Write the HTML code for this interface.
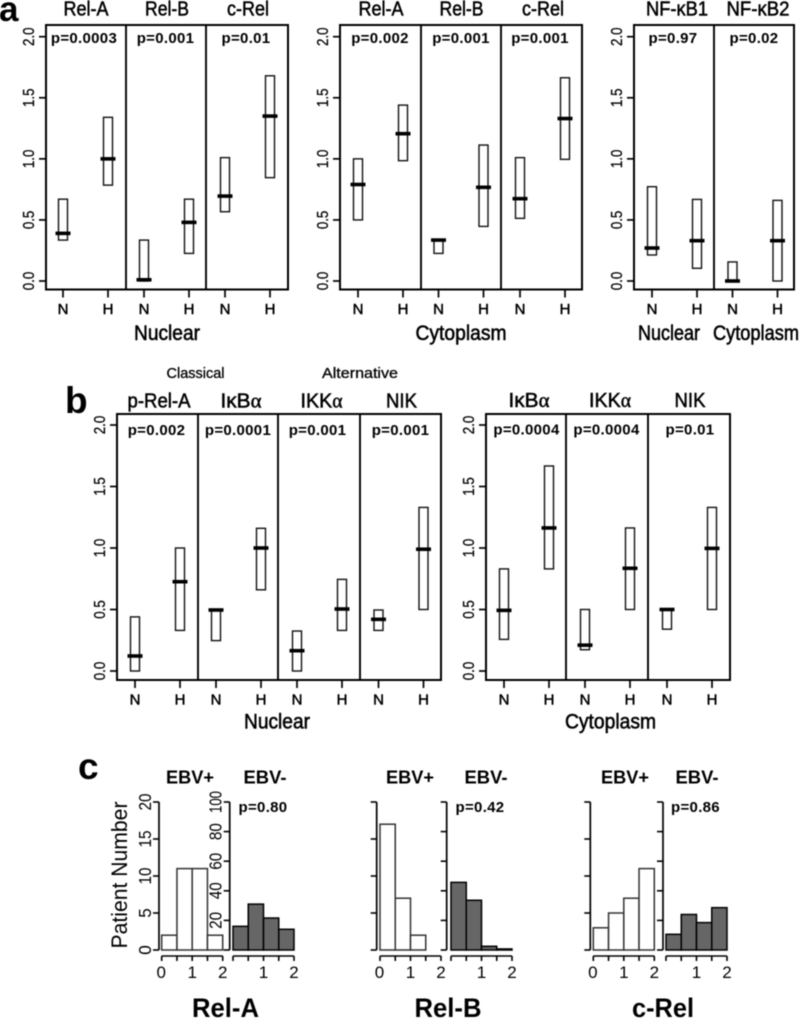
<!DOCTYPE html>
<html lang="en">
<head>
<meta charset="utf-8">
<title>NF-kB expression panels</title>
<style>
html,body{margin:0;padding:0;background:#fff;}
svg{display:block;filter:blur(0.45px);}
text{font-family:"Liberation Sans",sans-serif;fill:#000;}
.ttl{font-size:20px;text-anchor:middle;stroke:#000;stroke-width:.5px;}
.pv{font-size:15px;font-weight:bold;text-anchor:middle;letter-spacing:.3px;}
.xt{font-size:21px;text-anchor:middle;stroke:#000;stroke-width:.55px;}
.sm{font-size:14.5px;text-anchor:middle;stroke:#000;stroke-width:.3px;}
.let{font-weight:bold;}
.ebv{font-size:18.5px;font-weight:bold;text-anchor:middle;}
.big{font-size:27px;font-weight:bold;text-anchor:middle;}
.gr{font-family:"Liberation Serif",serif;}
</style>
</head>
<body>
<svg id="fig" xmlns="http://www.w3.org/2000/svg" width="800" height="1019" viewBox="0 0 800 1019">
<rect x="0" y="0" width="800" height="1019" fill="#fff"/>

<text class="let" x="-1" y="21" font-size="35">a</text>
<text class="let" x="65" y="413" font-size="37">b</text>
<text class="let" x="78" y="779" font-size="37">c</text>

<text class="ttl" x="86" y="15.5" textLength="45" lengthAdjust="spacingAndGlyphs">Rel-A</text>
<text class="ttl" x="167" y="15.5" textLength="44" lengthAdjust="spacingAndGlyphs">Rel-B</text>
<text class="ttl" x="248" y="15.5" textLength="42" lengthAdjust="spacingAndGlyphs">c-Rel</text>
<text class="ttl" x="381" y="15.5" textLength="45" lengthAdjust="spacingAndGlyphs">Rel-A</text>
<text class="ttl" x="461.500" y="15.5" textLength="44" lengthAdjust="spacingAndGlyphs">Rel-B</text>
<text class="ttl" x="543" y="15.5" textLength="42" lengthAdjust="spacingAndGlyphs">c-Rel</text>
<text class="ttl" x="677" y="15.5" textLength="62" lengthAdjust="spacingAndGlyphs">NF-κB1</text>
<text class="ttl" x="758" y="15.5" textLength="63" lengthAdjust="spacingAndGlyphs">NF-κB2</text>

<text class="pv" x="84" y="43">p=0.0003</text>
<text class="pv" x="165.500" y="43">p=0.001</text>
<text class="pv" x="246" y="43">p=0.01</text>
<text class="pv" x="380" y="43">p=0.002</text>
<text class="pv" x="461" y="43">p=0.001</text>
<text class="pv" x="540" y="43">p=0.001</text>
<text class="pv" x="673" y="43">p=0.97</text>
<text class="pv" x="754" y="43">p=0.02</text>

<text class="xt" x="167" y="340" textLength="66" lengthAdjust="spacingAndGlyphs">Nuclear</text>
<text class="xt" x="461" y="340" textLength="91" lengthAdjust="spacingAndGlyphs">Cytoplasm</text>
<text class="xt" x="669" y="340" textLength="62" lengthAdjust="spacingAndGlyphs">Nuclear</text>
<text class="xt" x="756" y="340" textLength="86" lengthAdjust="spacingAndGlyphs">Cytoplasm</text>

<text class="sm" x="195.500" y="378" textLength="58" lengthAdjust="spacingAndGlyphs">Classical</text>
<text class="sm" x="360" y="378" textLength="76" lengthAdjust="spacingAndGlyphs">Alternative</text>

<text class="ttl" x="159" y="407.500" textLength="63" lengthAdjust="spacingAndGlyphs">p-Rel-A</text>
<text class="ttl" x="241" y="407.500" textLength="41" lengthAdjust="spacingAndGlyphs">Iκ<tspan>B</tspan><tspan class="gr">α</tspan></text>
<text class="ttl" x="321.500" y="407.500" textLength="42" lengthAdjust="spacingAndGlyphs">IKK<tspan class="gr">α</tspan></text>
<text class="ttl" x="401.500" y="407.500" textLength="31" lengthAdjust="spacingAndGlyphs">NIK</text>
<text class="ttl" x="529" y="407" textLength="41" lengthAdjust="spacingAndGlyphs">Iκ<tspan>B</tspan><tspan class="gr">α</tspan></text>
<text class="ttl" x="610" y="407" textLength="42" lengthAdjust="spacingAndGlyphs">IKK<tspan class="gr">α</tspan></text>
<text class="ttl" x="690" y="407" textLength="31" lengthAdjust="spacingAndGlyphs">NIK</text>

<text class="pv" x="156.500" y="435">p=0.002</text>
<text class="pv" x="238" y="435">p=0.0001</text>
<text class="pv" x="317.500" y="435">p=0.001</text>
<text class="pv" x="400.500" y="435">p=0.001</text>
<text class="pv" x="526.500" y="434.500">p=0.0004</text>
<text class="pv" x="606.500" y="434.500">p=0.0004</text>
<text class="pv" x="690" y="434.500">p=0.01</text>

<text class="xt" x="277" y="728.500" textLength="66" lengthAdjust="spacingAndGlyphs">Nuclear</text>
<text class="xt" x="610.500" y="728.500" textLength="91" lengthAdjust="spacingAndGlyphs">Cytoplasm</text>

<text class="ebv" x="190" y="783.500" textLength="48" lengthAdjust="spacingAndGlyphs">EBV+</text>
<text class="ebv" x="265" y="783.500" textLength="43" lengthAdjust="spacingAndGlyphs">EBV-</text>
<text class="ebv" x="410" y="783.500" textLength="48" lengthAdjust="spacingAndGlyphs">EBV+</text>
<text class="ebv" x="486" y="783.500" textLength="43" lengthAdjust="spacingAndGlyphs">EBV-</text>
<text class="ebv" x="625" y="783.500" textLength="48" lengthAdjust="spacingAndGlyphs">EBV+</text>
<text class="ebv" x="697" y="783.500" textLength="43" lengthAdjust="spacingAndGlyphs">EBV-</text>

<text class="pv" x="263" y="812">p=0.80</text>
<text class="pv" x="480" y="812">p=0.42</text>
<text class="pv" x="695.500" y="812">p=0.86</text>

<text x="127" y="875" font-size="22.500" text-anchor="middle" transform="rotate(-90 127 875)" textLength="147" lengthAdjust="spacingAndGlyphs">Patient Number</text>

<text class="big" x="225.500" y="1017" textLength="67" lengthAdjust="spacingAndGlyphs">Rel-A</text>
<text class="big" x="448" y="1017" textLength="67" lengthAdjust="spacingAndGlyphs">Rel-B</text>
<text class="big" x="663" y="1017" textLength="62" lengthAdjust="spacingAndGlyphs">c-Rel</text>

<g id="marks"></g>
</svg>

<script>
// Shared box-panel axis values
const boxTicks = [0, 0.5, 1, 1.5, 2];
const boxTickLabels = ['0.0', '0.5', '1.0', '1.5', '2.0'];
const groupLabels = ['N', 'H'];

// a: nuclear Rel-A, Rel-B, c-Rel (pairs are N, H)
const aNuclearTop = [0.67, 1.34, 0.335, 0.67, 1.01, 1.68];
const aNuclearBottom = [0.335, 0.785, 0, 0.226, 0.567, 0.846];
const aNuclearMedian = [0.39, 1.0, 0.01, 0.48, 0.695, 1.35];

// a: cytoplasm Rel-A, Rel-B, c-Rel
const aCytoTop = [1.0, 1.44, 0.335, 1.113, 1.01, 1.664];
const aCytoBottom = [0.5, 0.985, 0.226, 0.447, 0.513, 0.996];
const aCytoMedian = [0.79, 1.206, 0.335, 0.767, 0.674, 1.33];

// a: NF-kB1 nuclear, NF-kB2 cytoplasm
const aNfTop = [0.772, 0.668, 0.156, 0.66];
const aNfBottom = [0.213, 0.104, 0, 0];
const aNfMedian = [0.27, 0.33, 0, 0.33];

// b: nuclear p-Rel-A, IkBa, IKKa, NIK
const bNuclearTop = [0.44, 1.0, 0.496, 1.16, 0.325, 0.745, 0.496, 1.33];
const bNuclearBottom = [0, 0.33, 0.247, 0.66, 0, 0.33, 0.33, 0.5];
const bNuclearMedian = [0.122, 0.726, 0.496, 1.0, 0.165, 0.504, 0.42, 0.99];

// b: cytoplasm IkBa, IKKa, NIK
const bCytoTop = [0.83, 1.667, 0.5, 1.163, 0.5, 1.33];
const bCytoBottom = [0.257, 0.83, 0.173, 0.5, 0.34, 0.5];
const bCytoMedian = [0.493, 1.163, 0.21, 0.835, 0.5, 0.997];

// c: histogram counts per bin (bins of width 0.5 from 0 to 2)
const histBreaks = [0, 0.5, 1, 1.5, 2];
const relAPos = [2, 11, 11, 2];
const relANeg = [16, 31, 21.6, 14];
const relBPos = [17, 7, 2, 0];
const relBNeg = [45.7, 33.6, 2.5, 0.7];
const cRelPos = [3, 5, 7, 11];
const cRelNeg = [10.6, 24, 18.5, 28.6];
const posTicks = [0, 5, 10, 15, 20];
const negTicks = [0, 20, 40, 60, 80, 100];
const negTickLabels = ['', '20', '40', '60', '80', '100'];
const histXTicks = [0, 1, 2];

const NS = 'http://www.w3.org/2000/svg';
const root = document.getElementById('marks');

function mk(tag, attrs, parent) {
  const el = document.createElementNS(NS, tag);
  for (const k in attrs) el.setAttribute(k, attrs[k]);
  (parent || root).appendChild(el);
  return el;
}

function drawBoxPanel(o) {
  const g = mk('g', {});
  
  
  const y = v => o.y0 + (o.y2 - o.y0) * v / 2;

  const frame = mk('rect', {x: o.left, y: o.top, width: o.right - o.left, height: o.bottom - o.top, fill: 'none', stroke: '#000', 'stroke-width': 2}, g);
  
  

  o.dividers.forEach(dx => {
    const d = mk('line', {x1: dx, x2: dx, y1: o.top, y2: o.bottom, stroke: '#000', 'stroke-width': 1.9}, g);
    
    
  });

  if (o.axis !== false) {
    boxTicks.forEach((t, i) => {
      const tick = mk('line', {x1: o.left - 7, x2: o.left, y1: y(t), y2: y(t), stroke: '#000', 'stroke-width': 1.7}, g);
      
      
      const lx = o.left - 12;
      const lab = mk('text', {x: lx, y: y(t), 'font-size': 16, 'text-anchor': 'middle', stroke: '#000', 'stroke-width': 0.25, transform: 'rotate(-90 ' + lx + ' ' + y(t) + ')', textLength: 18.5, lengthAdjust: 'spacingAndGlyphs'}, g);
      
      
      lab.textContent = boxTickLabels[i];
    });
  }

  o.starts.forEach((sx, p) => {
    groupLabels.forEach((name, k) => {
      const cx = sx + k * 45;
      const idx = p * 2 + k;
      const tick = mk('line', {x1: cx, x2: cx, y1: o.bottom, y2: o.bottom + 8, stroke: '#000', 'stroke-width': 1.7}, g);
      
      
      const lab = mk('text', {x: cx, y: o.bottom + 24.500, 'font-size': 15, 'text-anchor': 'middle', stroke: '#000', 'stroke-width': 0.45}, g);
      
      
      lab.textContent = name;

      const box = mk('rect', {x: cx - 4.500, y: y(o.tops[idx]), width: 9, height: y(o.bottoms[idx]) - y(o.tops[idx]), fill: '#fff', stroke: '#111', 'stroke-width': 1.4}, g);
      
      
      const med = mk('rect', {x: cx - 7.500, y: y(o.medians[idx]) - 1.800, width: 15, height: 3.600, fill: '#000'}, g);
      
      
    });
  });
}

drawBoxPanel({left: 46, right: 288, top: 25, bottom: 289.5, y0: 281, y2: 36.7, dividers: [126, 206], starts: [63, 144, 225], tops: aNuclearTop, bottoms: aNuclearBottom, medians: aNuclearMedian});
drawBoxPanel({left: 340, right: 582, top: 25, bottom: 289.5, y0: 281, y2: 36.7, dividers: [421, 501], starts: [358, 438.5, 520], tops: aCytoTop, bottoms: aCytoBottom, medians: aCytoMedian});
drawBoxPanel({left: 634, right: 794, top: 25, bottom: 289.5, y0: 281, y2: 36.7, dividers: [714], starts: [652, 732.5], tops: aNfTop, bottoms: aNfBottom, medians: aNfMedian});
drawBoxPanel({left: 117, right: 441, top: 414, bottom: 680, y0: 671, y2: 425, dividers: [198, 278, 360], starts: [135, 216, 297, 378.5], tops: bNuclearTop, bottoms: bNuclearBottom, medians: bNuclearMedian});
drawBoxPanel({left: 486, right: 730, top: 414, bottom: 680, y0: 671, y2: 425, dividers: [566, 648], starts: [504, 585, 667], tops: bCytoTop, bottoms: bCytoBottom, medians: bCytoMedian});

function drawHist(o) {
  const g = mk('g', {});
  
  
  const yBase = 950, yTop = 802;
  const y = v => yBase - (yBase - yTop) * v / o.ymax;
  const x = v => o.x0 + v * 30.5;

  const ax = mk('line', {x1: o.axisX, x2: o.axisX, y1: yTop, y2: yBase, stroke: '#000', 'stroke-width': 1.7}, g);
  
  
  o.ticks.forEach((t, i) => {
    const tick = mk('line', {x1: o.axisX - 6, x2: o.axisX, y1: y(t), y2: y(t), stroke: '#000', 'stroke-width': 1.6}, g);
    
    
    if (o.labels && o.labels[i] !== '') {
      const lx = o.axisX - 8;
      const s = String(o.labels[i]);
      const lab = mk('text', {x: lx, y: y(t), 'font-size': 17.5, 'text-anchor': 'middle', transform: 'rotate(-90 ' + lx + ' ' + y(t) + ')', textLength: s.length === 1 ? 9.5 : (s.length === 2 ? 17 : 22), lengthAdjust: 'spacingAndGlyphs'}, g);
      
      
      lab.textContent = s;
    }
  });

  o.values.forEach((v, i) => {
    const bar = mk('rect', {x: x(histBreaks[i]), y: y(v), width: x(histBreaks[i + 1]) - x(histBreaks[i]), height: yBase - y(v), fill: o.fill, stroke: o.stroke, 'stroke-width': 1.5}, g);
    
    
  });

  const xl = mk('line', {x1: x(0), x2: x(2), y1: 956, y2: 956, stroke: '#000', 'stroke-width': 1.6}, g);
  
  
  histBreaks.forEach(b => {
    const tick = mk('line', {x1: x(b), x2: x(b), y1: 956, y2: 961, stroke: '#000', 'stroke-width': 1.6}, g);
    
    
  });
  histXTicks.forEach(t => {
    if (t === 0 && !o.showZero) return;
    const lab = mk('text', {x: x(t) - (t === 0 ? 0.5 : 0), y: 978, 'font-size': 17, 'text-anchor': 'middle'}, g);
    
    
    lab.textContent = t;
  });
}

const WHITE = '#fff', DARK = '#666';
drawHist({axisX: 159, x0: 161.7, ymax: 20, ticks: posTicks, labels: posTicks, values: relAPos, fill: WHITE, stroke: '#333', showZero: true});
drawHist({axisX: 229.7, x0: 233, ymax: 100, ticks: negTicks, labels: negTickLabels, values: relANeg, fill: DARK, stroke: '#000', showZero: false});
drawHist({axisX: 376.7, x0: 380, ymax: 20, ticks: posTicks, values: relBPos, fill: WHITE, stroke: '#333', showZero: true});
drawHist({axisX: 446.7, x0: 451, ymax: 100, ticks: negTicks, values: relBNeg, fill: DARK, stroke: '#000', showZero: false});
drawHist({axisX: 590.3, x0: 593.3, ymax: 20, ticks: posTicks, values: cRelPos, fill: WHITE, stroke: '#333', showZero: true});
drawHist({axisX: 663, x0: 666, ymax: 100, ticks: negTicks, values: cRelNeg, fill: DARK, stroke: '#000', showZero: false});
</script>
</body>
</html>
